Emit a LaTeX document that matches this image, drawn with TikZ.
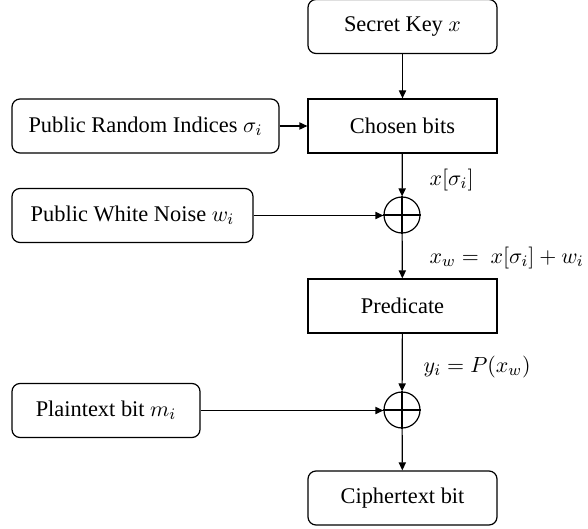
\documentclass[tikz,border=0pt]{standalone}
\usepackage{fontspec}
\setmainfont{Liberation Serif}
\usepackage{xcolor}
\usepackage{tikz}
\usetikzlibrary{arrows.meta}

\begin{document}
\begin{tikzpicture}[x=0.5pt, y=-0.5pt, line width=0.6pt,
    font=\fontsize{11.2}{13}\selectfont,
    roundbox/.style={draw, rounded corners=4pt, minimum height=27pt, inner sep=0pt},
    sharpbox/.style={draw, minimum height=27pt, minimum width=94.5pt, inner sep=0pt},
    xorcirc/.style={draw, circle, minimum size=18pt, inner sep=0pt},
    flow/.style={-{Triangle[length=4pt, width=3.6pt]}},
    lbl/.style={anchor=west, inner sep=0pt}]
    \useasboundingbox (0,0) rectangle (588,529);

    % main column
    \node[roundbox, minimum width=94.5pt] (secret) at (402.5,26.5) {Secret Key $x$};
    \node[sharpbox] (chosen) at (402.5,126) {Chosen bits};
    \node[xorcirc] (xora) at (402,215) {};
    \node[sharpbox] (pred) at (402.5,306) {Predicate};
    \node[xorcirc] (xorb) at (402,410) {};
    \node[roundbox, minimum width=94.5pt] (cipher) at (402.5,498) {Ciphertext bit};

    % public inputs
    \node[roundbox, minimum width=133.5pt] (indices) at (145.5,126) {Public Random Indices $\sigma_i$};
    \node[roundbox, minimum width=120.5pt] (noise) at (132.5,215.5) {Public White Noise $w_i$};
    \node[roundbox, minimum width=94pt] (plain) at (106,410.5) {Plaintext bit $m_i$};

    % xor crosses
    \draw (xora.north) -- (xora.south) (xora.west) -- (xora.east);
    \draw (xorb.north) -- (xorb.south) (xorb.west) -- (xorb.east);

    % labels
    \node[lbl] (lchosen) at (429,180) {$x[\sigma_i]$};
    \node[lbl] (lxw) at (429,258) {$x_w =\ x[\sigma_i] + w_i$};
    \node[lbl] (lyi) at (423,367) {$y_i = P(x_w)$};

    % connectors
    \draw[flow] (secret) -- (chosen);
    \draw[flow] (indices) -- (chosen);
    \draw[flow] (chosen) -- (xora);
    \draw[flow] (noise.east) -- (noise.east -| xora.west);
    \draw[flow] (xora) -- (pred);
    \draw[flow] (pred) -- (xorb);
    \draw[flow] (plain.east) -- (plain.east -| xorb.west);
    \draw[flow] (xorb) -- (cipher);
\end{tikzpicture}
\end{document}
